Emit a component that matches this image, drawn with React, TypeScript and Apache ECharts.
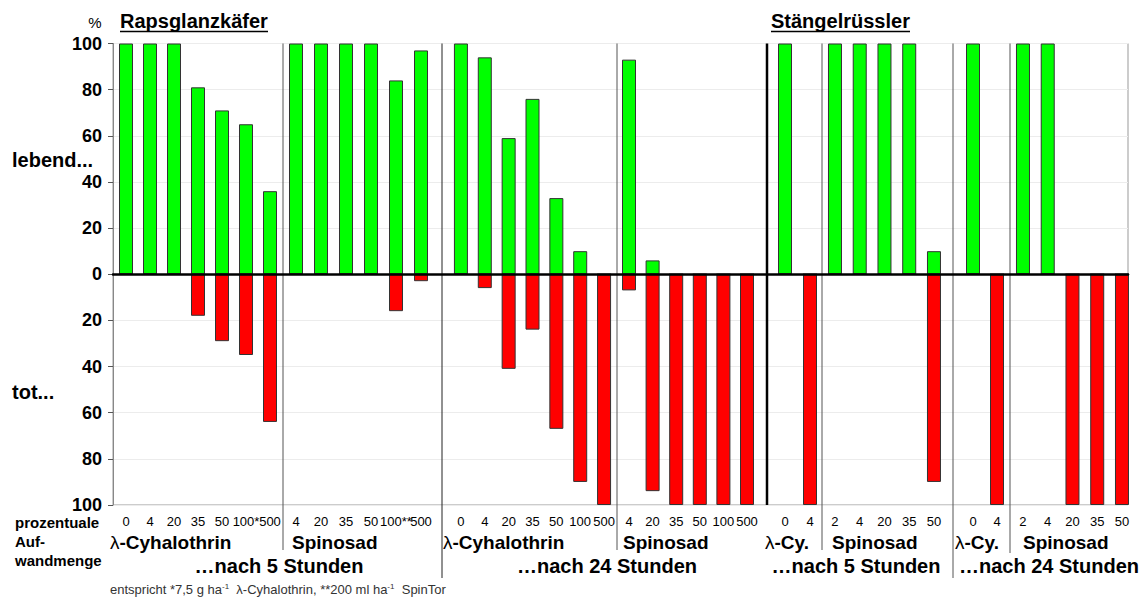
import React, { useEffect, useRef } from "react";
import * as echarts from "echarts";

// ---------- data ----------
const g1Rates = ["0", "4", "20", "35", "50", "100*", "500"];
const g1Alive = [100, 100, 100, 81, 71, 65, 36];
const g1Dead = [0, 0, 0, 18, 29, 35, 64];

const g2Rates = ["4", "20", "35", "50", "100**", "500"];
const g2Alive = [100, 100, 100, 100, 84, 97];
const g2Dead = [0, 0, 0, 0, 16, 3];

const g3Rates = ["0", "4", "20", "35", "50", "100", "500"];
const g3Alive = [100, 94, 59, 76, 33, 10, 0];
const g3Dead = [0, 6, 41, 24, 67, 90, 100];

const g4Rates = ["4", "20", "35", "50", "100", "500"];
const g4Alive = [93, 6, 0, 0, 0, 0];
const g4Dead = [7, 94, 100, 100, 100, 100];

const g5Rates = ["0", "4"];
const g5Alive = [100, 0];
const g5Dead = [0, 100];

const g6Rates = ["2", "4", "20", "35", "50"];
const g6Alive = [100, 100, 100, 100, 10];
const g6Dead = [0, 0, 0, 0, 90];

const g7Rates = ["0", "4"];
const g7Alive = [100, 0];
const g7Dead = [0, 100];

const g8Rates = ["2", "4", "20", "35", "50"];
const g8Alive = [100, 100, 0, 0, 0];
const g8Dead = [0, 0, 100, 100, 100];

const substances = ["{l|λ}-Cyhalothrin", "Spinosad", "{l|λ}-Cyhalothrin", "Spinosad", "{l|λ}-Cy.", "Spinosad", "{l|λ}-Cy.", "Spinosad"];
const timeLabels = ["…nach 5 Stunden", "…nach 24 Stunden", "…nach 5 Stunden", "…nach 24 Stunden"];
const pestTitles = ["Rapsglanzkäfer", "Stängelrüssler"];
const yMin = -100;
const yMax = 100;
const yStep = 20;

// ---------- layout ----------
const FONT = '"Liberation Sans", Arial, Helvetica, sans-serif';
const TOP = 43.5;
const HEIGHT = 461.5;
const PLOT_L = 113;
const PLOT_R = 1128;
const groupBoxes = [
  { left: 114, width: 168 },
  { left: 283.5, width: 150 },
  { left: 449, width: 167 },
  { left: 617.2, width: 141.6 },
  { left: 772.5, width: 50 },
  { left: 822.6, width: 123.75 },
  { left: 961, width: 48 },
  { left: 1010.6, width: 123.75 },
];
const substanceX = [110, 292, 443, 623, 765, 832, 955, 1023];
const timeX = [279, 607, 856, 1049];
const titleX = [120, 771];
const dividers = [
  { x: 283, y2: 550, c: "#555", w: 1 },
  { x: 442, y2: 578, c: "#222", w: 1 },
  { x: 617, y2: 550, c: "#555", w: 1 },
  { x: 767, y2: 505, c: "#000", w: 2.5 },
  { x: 822, y2: 550, c: "#555", w: 1 },
  { x: 953, y2: 578, c: "#555", w: 1 },
  { x: 1010, y2: 553, c: "#555", w: 1 },
];

const groups = [
  { rates: g1Rates, alive: g1Alive, dead: g1Dead },
  { rates: g2Rates, alive: g2Alive, dead: g2Dead },
  { rates: g3Rates, alive: g3Alive, dead: g3Dead },
  { rates: g4Rates, alive: g4Alive, dead: g4Dead },
  { rates: g5Rates, alive: g5Alive, dead: g5Dead },
  { rates: g6Rates, alive: g6Alive, dead: g6Dead },
  { rates: g7Rates, alive: g7Alive, dead: g7Dead },
  { rates: g8Rates, alive: g8Alive, dead: g8Dead },
];

function txt(text: string, x: number, y: number, size: number, bold: boolean, align = "left", extra: any = {}) {
  return {
    type: "text",
    x,
    y,
    z: 20,
    style: {
      text,
      fontSize: size,
      fontWeight: bold ? "bold" : "normal",
      fontFamily: FONT,
      fill: "#000",
      align,
      verticalAlign: "middle",
      textAlign: align,
      textVerticalAlign: "middle",
      ...extra,
    },
  };
}

export default function App() {
  const ref = useRef<HTMLDivElement>(null);
  useEffect(() => {
    if (!ref.current) return;
    const chart = echarts.init(ref.current, null, { renderer: "svg" });

    const grid: any[] = [
      { left: PLOT_L, top: TOP, width: PLOT_R - PLOT_L, height: HEIGHT, show: true, borderColor: "#999", borderWidth: 1, backgroundColor: "transparent" },
    ];
    const xAxis: any[] = [
      {
        gridIndex: 0, type: "value", min: 0, max: 1, z: 10,
        axisLine: { show: true, onZero: true, lineStyle: { color: "#000", width: 2.5 } },
        axisTick: { show: false }, axisLabel: { show: false }, splitLine: { show: false },
      },
    ];
    const yAxis: any[] = [
      {
        gridIndex: 0, type: "value", min: yMin, max: yMax, interval: yStep,
        axisLine: { show: true, lineStyle: { color: "#888" } },
        axisTick: { show: true, length: 5, lineStyle: { color: "#555" } },
        axisLabel: {
          formatter: (v: number) => String(Math.abs(v)),
          fontSize: 18, fontWeight: "bold", color: "#000", fontFamily: FONT, margin: 11,
        },
        splitLine: { show: true, lineStyle: { color: "#ececec" } },
      },
    ];
    const series: any[] = [];

    groups.forEach((g, i) => {
      const idx = i + 1;
      grid.push({ left: groupBoxes[i].left, width: groupBoxes[i].width, top: TOP, height: HEIGHT });
      xAxis.push({
        gridIndex: idx, type: "category", data: g.rates,
        axisLine: { show: false }, axisTick: { show: false }, splitLine: { show: false },
        axisLabel: { interval: 0, fontSize: 13, color: "#000", fontFamily: FONT, margin: 10, hideOverlap: false },
      });
      yAxis.push({ gridIndex: idx, type: "value", min: yMin, max: yMax, show: false, splitLine: { show: false } });
      series.push({
        type: "bar", xAxisIndex: idx, yAxisIndex: idx, data: g.alive, barWidth: 14, barGap: "-100%",
        itemStyle: { color: "#00ff00", borderColor: "#333", borderWidth: 1 },
      });
      series.push({
        type: "bar", xAxisIndex: idx, yAxisIndex: idx, data: g.dead.map((v) => -v), barWidth: 14, barGap: "-100%",
        itemStyle: { color: "#ff0000", borderColor: "#333", borderWidth: 1 },
      });
    });

    const graphic: any[] = [];
    dividers.forEach((d) => {
      graphic.push({
        type: "line", z: 5,
        shape: { x1: d.x, y1: TOP, x2: d.x, y2: d.y2 },
        style: { stroke: d.c, lineWidth: d.w },
      });
    });
    graphic.push(txt("%", 95, 22, 15, false, "center"));
    pestTitles.forEach((t, i) => {
      graphic.push(txt(t, titleX[i], 21, 20, true));
    });
    graphic.push({ type: "line", z: 20, shape: { x1: 120, y1: 31.5, x2: 268, y2: 31.5 }, style: { stroke: "#000", lineWidth: 1.5 } });
    graphic.push({ type: "line", z: 20, shape: { x1: 771, y1: 31.5, x2: 910, y2: 31.5 }, style: { stroke: "#000", lineWidth: 1.5 } });
    graphic.push(txt("lebend...", 12, 160, 20, true));
    graphic.push(txt("tot...", 12, 392, 20, true));
    graphic.push(txt("prozentuale", 15, 522.5, 15, true));
    graphic.push(txt("Auf-", 15, 541, 15, true));
    graphic.push(txt("wandmenge", 15, 560, 15, true));
    substances.forEach((s, i) => {
      graphic.push(
        txt(s, substanceX[i], 542, 19, true, "left", {
          rich: { l: { fontSize: 19, fontWeight: "normal", fontFamily: FONT, fill: "#000" } },
        })
      );
    });
    timeLabels.forEach((s, i) => {
      graphic.push(txt(s, timeX[i], 566, 20, true, "center"));
    });
    graphic.push({
      type: "text", x: 110, y: 589, z: 20,
      style: {
        text: "entspricht *7,5 g ha{s|-1}  λ-Cyhalothrin, **200 ml ha{s|-1}  SpinTor",
        fontSize: 13, fontFamily: FONT, fill: "#333",
        align: "left", verticalAlign: "middle", textAlign: "left", textVerticalAlign: "middle",
        lineHeight: 14,
        rich: { s: { fontSize: 8, fontFamily: FONT, fill: "#333", verticalAlign: "top", lineHeight: 14 } },
      },
    });

    chart.setOption({
      animation: false,
      backgroundColor: "#fff",
      grid,
      xAxis,
      yAxis,
      series,
      graphic,
    });
    return () => chart.dispose();
  }, []);
  return <div ref={ref} style={{ position: "fixed", left: 0, top: 0, width: 1145, height: 600 }} />;
}
